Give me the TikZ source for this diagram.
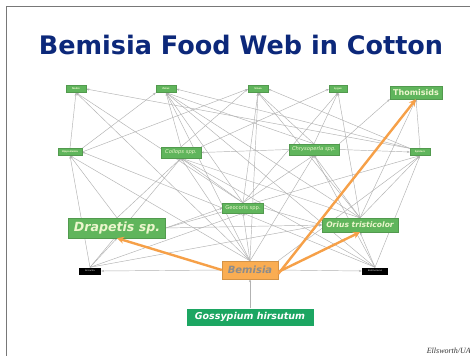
\documentclass[tikz,border=0pt]{standalone}
\usepackage{fontspec}
\setmainfont{DejaVu Sans}
\newfontfamily\serifit{Liberation Serif}
\usetikzlibrary{arrows.meta,backgrounds}
\definecolor{leaf}{RGB}{96,181,92}
\definecolor{pale}{RGB}{236,246,205}
\definecolor{cotton}{RGB}{28,166,98}
\definecolor{whitefly}{RGB}{250,173,82}
\definecolor{whiteflytext}{RGB}{140,140,140}
\definecolor{navy}{RGB}{12,40,122}
\definecolor{wire}{RGB}{178,178,178}
\definecolor{feed}{RGB}{246,160,72}
\definecolor{frame}{RGB}{120,120,120}
\newcommand{\fsz}[1]{\fontsize{#1}{#1}\selectfont}
\tikzset{
  taxon/.style={fill=leaf, draw=leaf!85!black, line width=0.3pt, text=pale, inner sep=0pt},
  minor/.style={taxon, minimum height=7pt, font=\fsz{2.4}\bfseries},
  parasitoid/.style={fill=black, text=white, inner sep=0pt, minimum height=7pt, font=\fsz{2.2}},
  web/.style={draw=wire, line width=0.45pt, -{Stealth[length=3pt,width=2.2pt]}},
  eats/.style={draw=feed, line width=2.4pt, -{Stealth[length=7pt,width=7pt]}},
}
\begin{document}
\begin{tikzpicture}[x=1pt,y=-1pt]
\useasboundingbox (0,0) rectangle (470,356);
\begin{scope}[on background layer]
\fill[white] (0,0) rectangle (470,356);
\end{scope}
% slide frame
\draw[frame, line width=1.2pt] (470,6.5) -- (6.5,6.5) -- (6.5,356);

% title
\node[text=navy, font=\fsz{25.5}\bfseries] (title) at (241,45) {Bemisia Food Web in Cotton};

% top tier predators
\node[minor, minimum width=20pt] (t1) at (76,89) {Nabis};
\node[minor, minimum width=20pt] (t2) at (166,89) {Zelus};
\node[minor, minimum width=20pt] (t3) at (258,89) {Sinea};
\node[minor, minimum width=18pt] (t4) at (338,89) {Lygus};
\node[taxon, minimum width=52pt, minimum height=13pt, font=\fsz{8}\bfseries] (thom) at (416,92.5) {Thomisids};

% second tier
\node[minor, minimum width=24pt] (m1) at (70,152) {Hippodamia};
\node[taxon, minimum width=40pt, minimum height=11pt, font=\fsz{5.2}\itshape] (coll) at (181,152.5) {Collops spp.};
\node[taxon, minimum width=50pt, minimum height=11pt, font=\fsz{5.2}\itshape] (chry) at (314,149.5) {Chrysoperla spp.};
\node[minor, minimum width=20pt] (m4) at (420,152) {Spiders};

% third tier
\node[taxon, minimum width=41pt, minimum height=10pt, font=\fsz{5.2}] (geo) at (243,208) {Geocoris spp.};
\node[taxon, minimum width=97pt, minimum height=20pt, font=\fsz{12.6}\bfseries\itshape] (drap) at (117,228) {Drapetis sp.};
\node[taxon, minimum width=76pt, minimum height=14pt, font=\fsz{7.6}\bfseries\itshape] (orius) at (360,225) {Orius tristicolor};

% prey and parasitoids
\node[parasitoid, minimum width=22pt] (bl) at (90,271) {Encarsia};
\node[fill=whitefly, draw=whitefly!85!black, line width=0.3pt, text=whiteflytext, inner sep=0pt,
      minimum width=56pt, minimum height=18pt, font=\fsz{10}\bfseries\itshape] (bem) at (250,270) {Bemisia};
\node[parasitoid, minimum width=26pt] (br) at (375,271) {Eretmocerus};

% host plant
\node[fill=cotton, text=white, inner sep=0pt, minimum width=127pt, minimum height=17pt,
      font=\fsz{9.5}\bfseries\itshape] (goss) at (250,317) {Gossypium hirsutum};

% credit
\node[anchor=east, font=\serifit\itshape\fsz{8}, text=black!80, inner sep=0pt] (credit) at (471,351) {Ellsworth/UA};

% feeding links, kept behind the boxes
\begin{scope}[on background layer]
\draw[web] (m1.north) -- (t1.south);
\draw[web] (m1.north east) -- (t2.south west);
\draw[web] (m1.east) -- (t3.west);
\draw[web] (geo.west) -- (m1.east);
\draw[web] (coll.north) -- (t2.south);
\draw[web] (coll.north) -- (t3.west);
\draw[web] (coll.north east) -- (t4.west);
\draw[web] (chry.west) -- (coll.east);
\draw[web] (chry.north) -- (t3.south);
\draw[web] (chry.north) -- (t4.south);
\draw[web] (chry.north) -- (t2.south);
\draw[web] (chry.north east) -- (thom.south west);
\draw[web] (chry.east) -- (m4.west);
\draw[web] (m4.north west) -- (t1.east);
\draw[web] (m4.north west) -- (t2.east);
\draw[web] (m4.north) -- (thom.south);
\draw[web] (m4.north west) -- (t3.east);
\draw[web] (geo.north) -- (t1.south);
\draw[web] (geo.north) -- (t2.south);
\draw[web] (geo.north) -- (t3.south);
\draw[web] (geo.north) -- (coll.south);
\draw[web] (geo.north) -- (chry.south);
\draw[web] (geo.north) -- (t4.south);
\draw[web] (bem.north) -- (t1.south);
\draw[web] (bem.north) -- (t3.south);
\draw[web] (bem.north) -- (coll.south);
\draw[web] (bem.north) -- (chry.south);
\draw[web] (bem.north) -- (geo.south);
\draw[web] (bem.north) -- (m1.south);
\draw[web] (bem.north east) -- (m4.south);
\draw[web] (bem.north) -- (t2.south);
\draw[web] (orius.north) -- (t2.south);
\draw[web] (orius.north) -- (t3.south);
\draw[web] (orius.north) -- (t4.south);
\draw[web] (orius.north) -- (chry.south);
\draw[web] (orius.north) -- (coll.south);
\draw[web] (orius.north) -- (thom.south);
\draw[web] (orius.north) -- (m4.south);
\draw[web] (geo.east) -- (orius.west);
\draw[web] (drap.east) -- (geo.west);
\draw[web] (drap.north) -- (coll.south);
\draw[web] (drap.north) -- (m1.south);
\draw[web] (drap.east) -- (orius.west);
\draw[web] (drap.east) -- (m4.south);
\draw[web] (bl.north) -- (m1.south);
\draw[web] (bl.north) -- (coll.south);
\draw[web] (bl.north) -- (geo.south);
\draw[web] (bl.north) -- (drap.south);
\draw[web] (bl.north) -- (orius.west);
\draw[web] (bem.west) -- (bl.east);
\draw[web] (bem.east) -- (br.west);
\draw[web] (br.north) -- (geo.south);
\draw[web] (br.north) -- (coll.south);
\draw[web] (br.north) -- (chry.south);
\draw[web] (br.north) -- (orius.south);
\draw[web] (br.north) -- (m4.south);
\draw[web] (br.north) -- (t2.south);
\draw[web] (goss.north) -- (bem.south);
\end{scope}

% Bemisia consumers highlighted
\draw[eats] (bem.west) -- (drap.south);
\draw[eats] ([yshift=-2pt]bem.east) -- (orius.south);
\draw[eats] ([yshift=-4pt]bem.east) -- (thom.south);
\end{tikzpicture}
\end{document}
